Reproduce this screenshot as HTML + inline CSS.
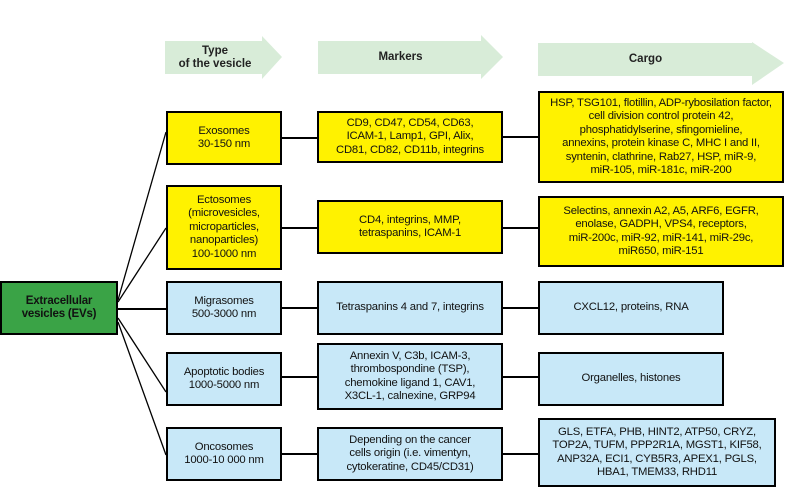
<!DOCTYPE html>
<html><head><meta charset="utf-8"><style>
body{margin:0;background:#fff;width:788px;height:488px;position:relative;overflow:hidden;font-family:"Liberation Sans",sans-serif;}
.b{position:absolute;box-sizing:border-box;border:2px solid #000;display:flex;align-items:center;justify-content:center;text-align:center;font-size:11.3px;line-height:13.5px;color:#111;letter-spacing:-0.2px}
.y{background:#fff200}.c{background:#c8e8f8}
.h{position:absolute;font-size:11.5px;font-weight:bold;text-align:center;line-height:13px;color:#222}
svg{position:absolute;left:0;top:0}
</style></head><body>
<svg width="788" height="488">
<g fill="#d8ecd8">
<polygon points="165,41 262,41 262,36 282,57 262,79 262,74 165,74"/>
<polygon points="318,41 481,41 481,35 503,57 481,79 481,74 318,74"/>
<polygon points="538,43 752,43 752,42 784,63 752,85 752,76 538,76"/>
</g>
<g stroke="#000" stroke-width="1.3" fill="none">
<line x1="118" y1="300" x2="166" y2="132"/>
<line x1="118" y1="302" x2="166" y2="228"/>
<line x1="118" y1="318" x2="166" y2="392"/>
<line x1="118" y1="322" x2="166" y2="455"/>
</g>
<g stroke="#000" stroke-width="2">
<line x1="118" y1="309" x2="166" y2="309"/>
<line x1="282" y1="138" x2="317" y2="138"/>
<line x1="503" y1="137" x2="538" y2="137"/>
<line x1="282" y1="228" x2="317" y2="228"/>
<line x1="503" y1="228" x2="538" y2="228"/>
<line x1="282" y1="308" x2="317" y2="308"/>
<line x1="503" y1="308" x2="538" y2="308"/>
<line x1="282" y1="377" x2="317" y2="377"/>
<line x1="503" y1="377" x2="538" y2="377"/>
<line x1="282" y1="454" x2="317" y2="454"/>
<line x1="503" y1="454" x2="538" y2="454"/>
</g>
</svg>
<div class="h" style="left:165px;top:45px;width:100px">Type<br>of the vesicle</div>
<div class="h" style="left:318px;top:51px;width:165px">Markers</div>
<div class="h" style="left:538px;top:53px;width:215px">Cargo</div>

<div class="b" style="left:0;top:281px;width:118px;height:54px;background:#3aa346;font-weight:bold;font-size:11.5px">Extracellular<br>vesicles (EVs)</div>

<div class="b y" style="left:166px;top:111px;width:116px;height:54px">Exosomes<br>30-150 nm</div>
<div class="b y" style="left:317px;top:111px;width:186px;height:52px">CD9, CD47, CD54, CD63,<br>ICAM-1, Lamp1, GPI, Alix,<br>CD81, CD82, CD11b, integrins</div>
<div class="b y" style="left:538px;top:91px;width:246px;height:92px">HSP, TSG101, flotillin, ADP-rybosilation factor,<br>cell division control protein 42,<br>phosphatidylserine, sfingomieline,<br>annexins, protein kinase C, MHC I and II,<br>syntenin, clathrine, Rab27, HSP, miR-9,<br>miR-105, miR-181c, miR-200</div>

<div class="b y" style="left:166px;top:185px;width:116px;height:85px">Ectosomes<br>(microvesicles,<br>microparticles,<br>nanoparticles)<br>100-1000 nm</div>
<div class="b y" style="left:317px;top:200px;width:186px;height:54px">CD4, integrins, MMP,<br>tetraspanins, ICAM-1</div>
<div class="b y" style="left:538px;top:196px;width:246px;height:71px">Selectins, annexin A2, A5, ARF6, EGFR,<br>enolase, GADPH, VPS4, receptors,<br>miR-200c, miR-92, miR-141, miR-29c,<br>miR650, miR-151</div>

<div class="b c" style="left:166px;top:281px;width:116px;height:54px">Migrasomes<br>500-3000 nm</div>
<div class="b c" style="left:317px;top:281px;width:186px;height:54px">Tetraspanins 4 and 7, integrins</div>
<div class="b c" style="left:538px;top:281px;width:186px;height:54px">CXCL12, proteins, RNA</div>

<div class="b c" style="left:166px;top:352px;width:116px;height:54px">Apoptotic bodies<br>1000-5000 nm</div>
<div class="b c" style="left:317px;top:343px;width:186px;height:67px">Annexin V, C3b, ICAM-3,<br>thrombospondine (TSP),<br>chemokine ligand 1, CAV1,<br>X3CL-1, calnexine, GRP94</div>
<div class="b c" style="left:538px;top:352px;width:186px;height:54px">Organelles, histones</div>

<div class="b c" style="left:166px;top:427px;width:116px;height:54px">Oncosomes<br>1000-10 000 nm</div>
<div class="b c" style="left:317px;top:427px;width:186px;height:54px">Depending on the cancer<br>cells origin (i.e. vimentyn,<br>cytokeratine, CD45/CD31)</div>
<div class="b c" style="left:538px;top:418px;width:238px;height:69px">GLS, ETFA, PHB, HINT2, ATP50, CRYZ,<br>TOP2A, TUFM, PPP2R1A, MGST1, KIF58,<br>ANP32A, ECI1, CYB5R3, APEX1, PGLS,<br>HBA1, TMEM33, RHD11</div>
</body></html>
